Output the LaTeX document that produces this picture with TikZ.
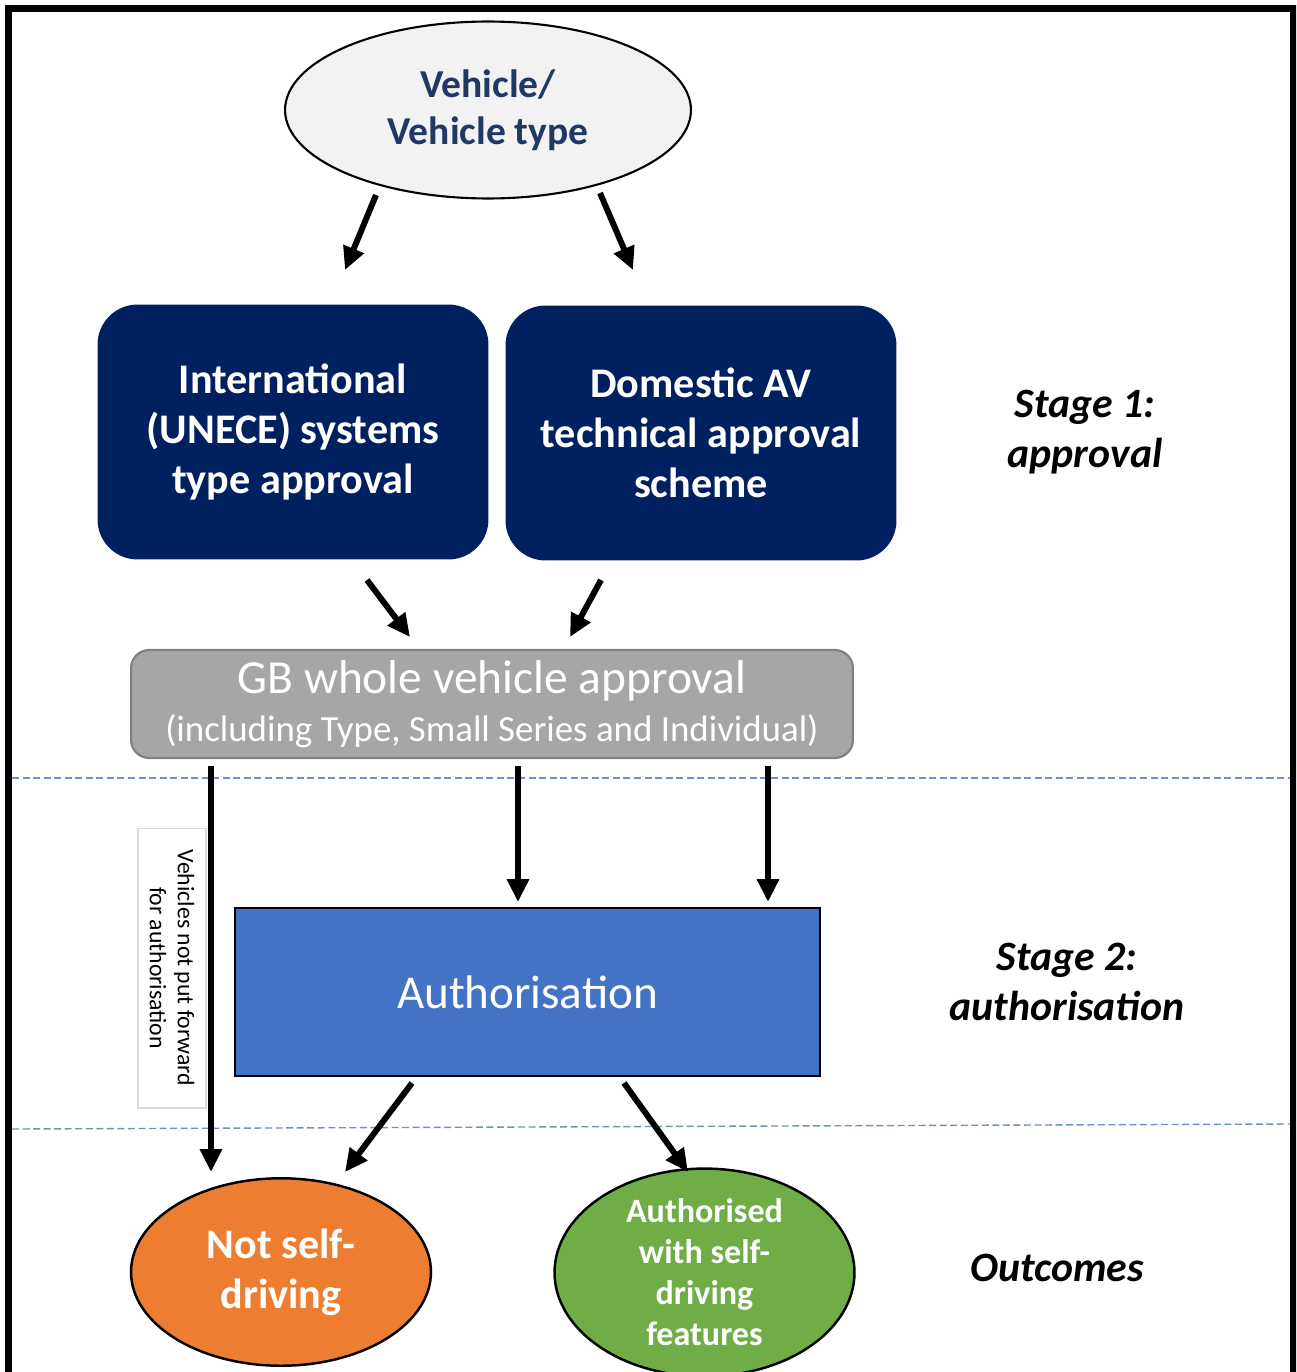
\documentclass[tikz,border=0pt]{standalone}
\usepackage{fontspec}
\setmainfont{Carlito}
\usetikzlibrary{shapes.geometric,arrows.meta,positioning}

\definecolor{navy}{HTML}{002060}
\definecolor{gbgrey}{HTML}{A6A6A6}
\definecolor{gbedge}{HTML}{808080}
\definecolor{authblue}{HTML}{4472C4}
\definecolor{outorange}{HTML}{ED7D31}
\definecolor{outgreen}{HTML}{70AD47}
\definecolor{vehtext}{HTML}{1F3864}
\definecolor{vehfill}{HTML}{F2F2F2}
\definecolor{divline}{HTML}{6F8FC8}

\begin{document}
\begin{tikzpicture}[
    x=0.02cm, y=-0.02cm,
    vehicle/.style={ellipse, draw=black, line width=1.2pt, fill=vehfill, minimum width=8.12cm, minimum height=3.54cm, inner sep=0pt, align=center, text=vehtext, font=\fontsize{22.5}{27}\selectfont\bfseries},
    scheme/.style={rectangle, rounded corners=0.8cm, fill=navy, minimum width=7.82cm, minimum height=5.1cm, align=center, text=white, font=\fontsize{24}{28.5}\selectfont\bfseries},
    wva/.style={rectangle, rounded corners=0.36cm, draw=gbedge, line width=1.2pt, fill=gbgrey, minimum width=14.44cm, minimum height=2.16cm, align=center, text=white},
    auth/.style={rectangle, draw=black, line width=1.2pt, fill=authblue, minimum width=11.7cm, minimum height=3.36cm, text=white, font=\fontsize{26.8}{30}\selectfont},
    outcome/.style={ellipse, draw=black, line width=1.4pt, minimum width=6cm, minimum height=3.75cm, inner sep=0pt, align=center, text=white},
    stage/.style={align=center, font=\fontsize{23.8}{28.5}\selectfont\bfseries\itshape},
    note/.style={rectangle, draw=black!15, line width=0.6pt, fill=white, minimum width=5.6cm, minimum height=1.36cm, align=center, font=\fontsize{13.5}{16}\selectfont},
    divider/.style={draw=divline, dashed, dash pattern=on 4pt off 2pt, line width=0.8pt},
    arrow/.style={-{Triangle[length=13pt,width=12pt]}, line width=3.4pt}
]

% Frame
\path[use as bounding box, clip] (0,0) rectangle (1296,1372);
\draw[line width=4pt] (8.5,1400) -- (8.5,8.5) -- (1293,8.5) -- (1293,1400);

% Stage dividers
\draw[divider] (12,778) -- (1290,778);
\draw[divider] (12,1129) -- (1290,1124);

% Stage 1 - approval
\node[vehicle] (veh) at (488,110) {Vehicle/\\Vehicle type};
\node[scheme] (unece) at (293,432) {International\\(UNECE) systems\\type approval};
\node[scheme] (domav) at (701,433) {Domestic AV\\technical approval\\scheme};
\node[stage] (stage1) at (1085,432) {Stage 1:\\approval};

\node[wva] (gbwva) at (492,704) {{\fontsize{27}{28.5}\selectfont GB whole vehicle approval}\\[6.5pt]{\fontsize{21}{24}\selectfont (including Type, Small Series and Individual)}};

% Stage 2 - authorisation
\node[note, rotate=-90] (notput) at (172,968) {Vehicles not put forward\\for authorisation};
\node[auth] (author) at (527.5,992) {Authorisation};
\node[stage] (stage2) at (1067,982) {Stage 2:\\authorisation};

% Outcomes
\node[outcome, fill=outorange, font=\fontsize{24}{28.5}\selectfont\bfseries] (notsd) at (281,1272) {Not self-\\driving};
\node[outcome, fill=outgreen, font=\fontsize{19.4}{23.3}\selectfont\bfseries] (authsd) at (704.5,1272.5) {Authorised\\with self-\\driving\\features};
\node[stage] (outc) at (1057,1268) {Outcomes};

% Arrow ends
\coordinate (v1) at (376,195);   \coordinate (v1e) at (345,270);
\coordinate (v2) at (600,193);   \coordinate (v2e) at (633,270);
\coordinate (u1) at (367,580);   \coordinate (u1e) at (410,637);
\coordinate (d1) at (601,580);   \coordinate (d1e) at (570,637);
\coordinate (g1) at (211,766);   \coordinate (g1e) at (211,1172);
\coordinate (g2) at (518,766);   \coordinate (g2e) at (518,902);
\coordinate (g3) at (768,766);   \coordinate (g3e) at (768,902);
\coordinate (a1) at (412,1083);  \coordinate (a1e) at (345,1172);
\coordinate (a2) at (624,1083);  \coordinate (a2e) at (688,1172);

% Arrows
\draw[arrow] (v1) -- (v1e);
\draw[arrow] (v2) -- (v2e);
\draw[arrow] (u1) -- (u1e);
\draw[arrow] (d1) -- (d1e);
\draw[arrow] (g1) -- (g1e);
\draw[arrow] (g2) -- (g2e);
\draw[arrow] (g3) -- (g3e);
\draw[arrow] (a1) -- (a1e);
\draw[arrow] (a2) -- (a2e);

\end{tikzpicture}
\end{document}
